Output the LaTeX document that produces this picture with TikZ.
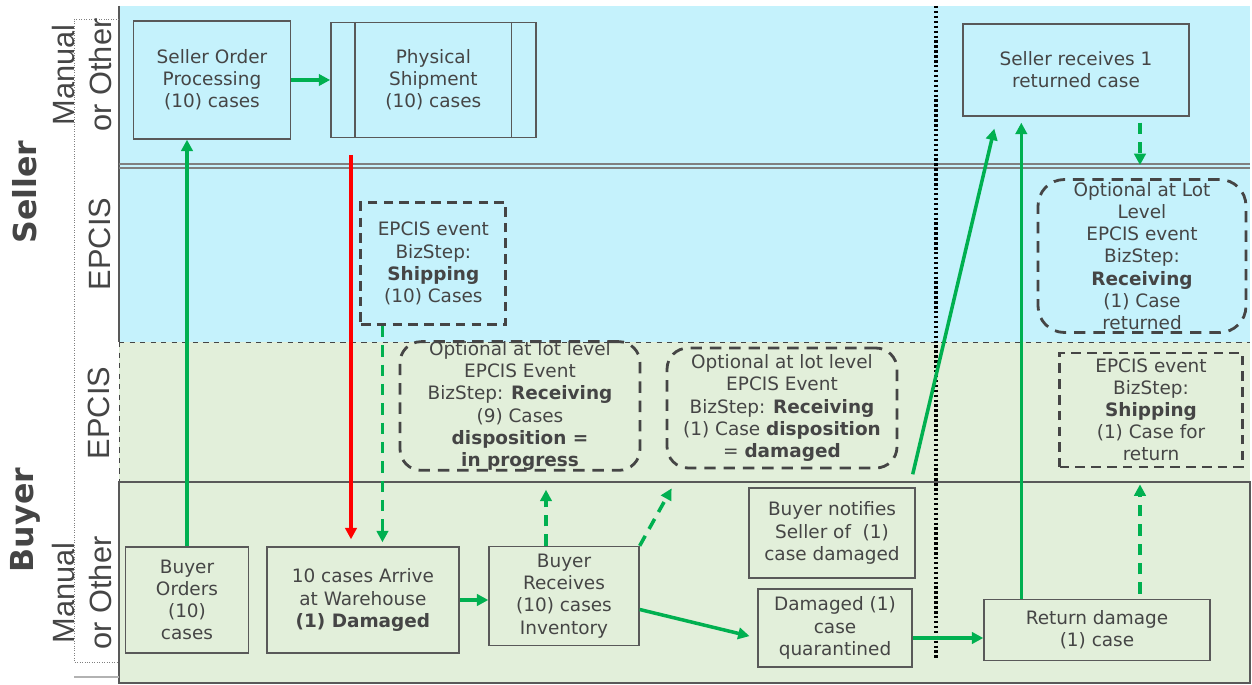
\documentclass[tikz,border=0pt]{standalone}
\usepackage{fontspec}
\setmainfont{DejaVu Sans}
\newfontfamily\lanefont{Liberation Sans}
\usetikzlibrary{arrows.meta,shapes,positioning,calc,backgrounds}
\definecolor{sellerblue}{HTML}{C5F2FC}
\definecolor{buyergreen}{HTML}{E2EFDA}
\definecolor{flowgreen}{HTML}{00B050}
\definecolor{boxgray}{HTML}{595959}
\definecolor{txtgray}{HTML}{454545}
\tikzset{
  proc/.style={rectangle,draw=boxgray,line width=0.8pt,inner sep=0pt,text=txtgray,
    font=\fontsize{10.5}{12.6}\selectfont},
  event/.style={proc,draw=txtgray,line width=1.6pt,dash pattern=on 5.5pt off 3.5pt},
  optevent/.style={event,rounded corners=12pt,dash pattern=on 6.5pt off 4.5pt},
  flow/.style={-{Triangle[length=6.5pt,width=6.5pt]},flowgreen,line width=2pt},
  optflow/.style={flow,dash pattern=on 6.5pt off 4.5pt},
  redflow/.style={flow,red},
  lanelabel/.style={text=txtgray,rotate=90,align=center,
    font=\lanefont\fontsize{17.5}{21.5}\selectfont},
  partylabel/.style={text=txtgray,rotate=90,font=\bfseries\fontsize{18}{20}\selectfont}
}

\begin{document}
\begin{tikzpicture}
[x=0.02cm,y=-0.02cm]
\useasboundingbox (0,0) rectangle (1252,685);
%% lanes
\fill[sellerblue] (119,6) rectangle (1250,342);
\fill[buyergreen] (119,342) rectangle (1250,683);
\draw[boxgray,line width=0.6pt] (119,6) -- (119,342);
\draw[gray,line width=0.6pt] (119,164) -- (1250,164) (119,168) -- (1250,168);
\draw[txtgray,dashed,line width=0.5pt] (119,342) -- (1250,342) (119,342) -- (119,482);
\draw[boxgray,line width=0.8pt] (119,482) rectangle (1250,683);
\draw[gray,densely dotted,line width=0.4pt] (119,19) -- (74,19) -- (74,662) -- (119,662);
\draw[gray!60,line width=1.2pt] (74,677) -- (119,677);
\draw[black,line width=2.4pt,dash pattern=on 1.4pt off 1.4pt] (936,6) -- (936,660);
%% lane labels
\node[partylabel] (Seller) at (25,192) {Seller};
\node[partylabel] (Buyer) at (25,520) {Buyer};
\node[lanelabel] (SellerMan) at (82,75) {Manual\\or Other};
\node[lanelabel] (SellerEPC) at (100,244) {EPCIS};
\node[lanelabel] (BuyerEPC) at (99,413) {EPCIS};
\node[lanelabel] (BuyerMan) at (82,593) {Manual\\or Other};
%% seller side
\node[proc,minimum width=3.14cm,minimum height=2.36cm] (SOP) at (212,80)
{\parbox[c]{3cm}{\centering{Seller Order\\ Processing\\ (10) cases}}};
\node[proc,minimum width=4.1cm,minimum height=2.3cm,right=0.78cm of SOP] (PS)
{\parbox[c]{3cm}{\centering{Physical\\ Shipment\\ (10) cases}}};
\draw[boxgray,line width=0.8pt] ([xshift=0.5cm]PS.north west) -- ([xshift=0.5cm]PS.south west)
  ([xshift=-0.5cm]PS.north east) -- ([xshift=-0.5cm]PS.south east);
\node[event,minimum width=2.9cm,minimum height=2.44cm,below=1.26cm of PS] (EvShip)
{\parbox[c]{2.8cm}{\centering{EPCIS event\\ BizStep:\\ \textbf{Shipping}\\ (10) Cases}}};
\node[proc,minimum width=4.52cm,minimum height=1.84cm] (SR) at (1076,70)
{\parbox[c]{4.4cm}{\centering{Seller receives 1\\ returned case}}};
\node[optevent,rounded corners=15pt,minimum width=4.16cm,minimum height=3.06cm] (OptLot) at (1142,256)
{\parbox[c]{4cm}{\centering{Optional at Lot\\ Level\\ EPCIS event\\ BizStep:\\ \textbf{Receiving}\\ (1) Case\\ returned}}};
%% buyer side
\node[optevent,minimum width=4.8cm,minimum height=2.54cm] (Opt9) at (520,406)
{\parbox[c]{4.6cm}{\centering{Optional at lot level\\ EPCIS Event\\ BizStep: \textbf{Receiving}\\ (9) Cases\\ \textbf{disposition =}\\ \textbf{in progress}}}};
\node[optevent,minimum width=4.6cm,minimum height=2.4cm] (Opt1) at (782,408)
{\parbox[c]{4.4cm}{\centering{Optional at lot level\\ EPCIS Event\\ BizStep: \textbf{Receiving}\\ (1) Case \textbf{disposition}\\ = \textbf{damaged}}}};
\node[event,minimum width=3.66cm,minimum height=2.28cm] (BuyShip) at (1151,410)
{\parbox[c]{3.5cm}{\centering{EPCIS event\\ BizStep:\\ \textbf{Shipping}\\ (1) Case for\\ return}}};
\node[proc,minimum width=2.46cm,minimum height=2.12cm] (BO) at (187,600)
{\parbox[c]{2.3cm}{\centering{Buyer\\ Orders\\ (10)\\ cases}}};
\node[proc,minimum width=3.84cm,minimum height=2.12cm,right=0.34cm of BO] (Arrive)
{\parbox[c]{3.7cm}{\centering{10 cases Arrive\\ at Warehouse\\ \textbf{(1) Damaged}}}};
\node[proc,minimum width=3cm,minimum height=1.98cm] (BR) at (564,596)
{\parbox[c]{2.9cm}{\centering{Buyer\\ Receives\\ (10) cases\\ Inventory}}};
\node[proc,minimum width=3.32cm,minimum height=1.8cm] (Notify) at (832,533)
{\parbox[c]{3.2cm}{\centering{Buyer notifies\\ Seller of~~(1)\\ case damaged}}};
\node[proc,minimum width=3.08cm,minimum height=1.56cm] (Dam) at (835,628)
{\parbox[c]{3cm}{\centering{Damaged (1)\\ case\\ quarantined}}};
\node[proc,minimum width=4.52cm,minimum height=1.22cm] (Ret) at (1097,630)
{\parbox[c]{4.4cm}{\centering{Return damage\\ (1) case}}};
%% flows
\draw[flow] (BO.north) -- (BO.north |- SOP.south);
\draw[flow] (SOP.east) -- (PS.west);
\coordinate (shipdrop) at (351,155);
\draw[redflow,shorten >=0.14cm] (shipdrop) -- (shipdrop |- Arrive.north);
\draw[optflow,shorten >=0.08cm] ([xshift=0.46cm]EvShip.south west) -- ([xshift=0.46cm]EvShip.south west |- Arrive.north);
\draw[flow] (Arrive.east) -- (Arrive.east -| BR.west);
\draw[optflow,shorten >=0.36cm] ([xshift=-0.36cm]BR.north) -- ([xshift=-0.36cm]BR.north |- Opt9.south);
\draw[optflow] (BR.north east) -- ([shift={(0.12cm,-0.38cm)}]Opt1.south west);
\draw[flow,shorten >=0.16cm] ([yshift=-0.27cm]BR.east) -- ([yshift=-0.2cm]Dam.west);
\draw[flow] ([yshift=-0.2cm]Dam.east) -- ([yshift=-0.2cm]Dam.east -| Ret.west);
%
\draw[flow] ([shift={(-0.06cm,0.26cm)}]Notify.north east) -- ([shift={(0.64cm,-0.24cm)}]SR.south west);
\draw[flow,shorten >=0.12cm] ([xshift=0.76cm]Ret.north west) -- ([xshift=0.76cm]Ret.north west |- SR.south);
\draw[optflow,shorten <=0.12cm,shorten >=0.26cm] ([xshift=1.28cm]SR.south) -- ([xshift=1.28cm]SR.south |- OptLot.north);
\draw[optflow,shorten <=0.1cm,shorten >=0.32cm] ([xshift=0.86cm]Ret.north) -- ([xshift=0.86cm]Ret.north |- BuyShip.south);
\end{tikzpicture}
\end{document}
